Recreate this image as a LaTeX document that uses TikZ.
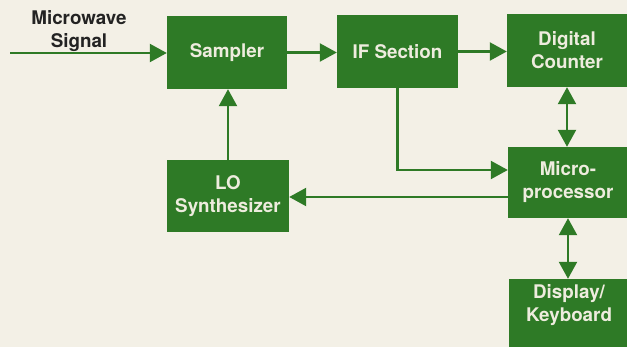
\documentclass[tikz,border=0pt]{standalone}
\usepackage{fontspec}
\setmainfont{TeX Gyre Heros}
\usetikzlibrary{arrows.meta,calc}
\definecolor{boxgreen}{RGB}{46,122,38}
\definecolor{bgcream}{RGB}{243,240,230}
\definecolor{boxtext}{RGB}{238,236,222}
\definecolor{labeltext}{RGB}{35,35,35}
\begin{document}
\begin{tikzpicture}[x=1pt,y=-1pt,
  boxfont/.style={font=\bfseries\fontsize{18.8}{23}\selectfont},
  box/.style={boxfont, fill=boxgreen, text=boxtext, align=center, minimum width=120pt, inner sep=0pt},
  tipshape/.tip={Triangle[length=17pt,width=18pt]},
  conn/.style={draw=boxgreen, line width=2.3pt, -tipshape},
  biconn/.style={draw=boxgreen, line width=2.3pt, tipshape-tipshape}]
\fill[bgcream] (0,0) rectangle (627,347);
\useasboundingbox (0,0) rectangle (627,347);
\clip (0,0) rectangle (627,347);

\node[box, minimum height=73pt] (sampler) at (227,52.5) {Sampler};
\node[box, minimum width=121pt, minimum height=73pt] (if) at (397.5,51.5) {IF Section};
\node[box, minimum height=73pt] (counter) at (567,50.5) {Digital\\Counter};
\node[box, minimum height=71pt] (micro) at (568,182.5) {Micro-\\processor};
\node[box, minimum width=122pt, minimum height=72pt] (lo) at (228,196) {LO\\Synthesizer};
\node[box, minimum height=53pt] (display) at (569,305.5) {Display/\\Keyboard};
\fill[boxgreen] (display.south west) rectangle ($(display.south east)+(0,20)$);

\node[boxfont, text=labeltext, align=center] (mw) at (79,31) {Microwave\\Signal};
\coordinate (src) at (10,53);
\coordinate (ifin) at ($(micro.west)+(0,-12.5)$);
\coordinate (loout) at ($(micro.west)+(0,14.5)$);

\draw[conn] (src) -- (src -| sampler.west);
\draw[conn] (sampler.east) -- (sampler.east -| if.west);
\draw[conn] (if.east) -- (if.east -| counter.west);
\draw[biconn] (counter.south) -- (counter.south |- micro.north);
\draw[conn] (if.south) |- (ifin);
\draw[conn] (loout) -- (loout -| lo.east);
\draw[conn] (lo.north) -- (lo.north |- sampler.south);
\draw[biconn] (micro.south) -- (micro.south |- display.north);
\end{tikzpicture}
\end{document}
